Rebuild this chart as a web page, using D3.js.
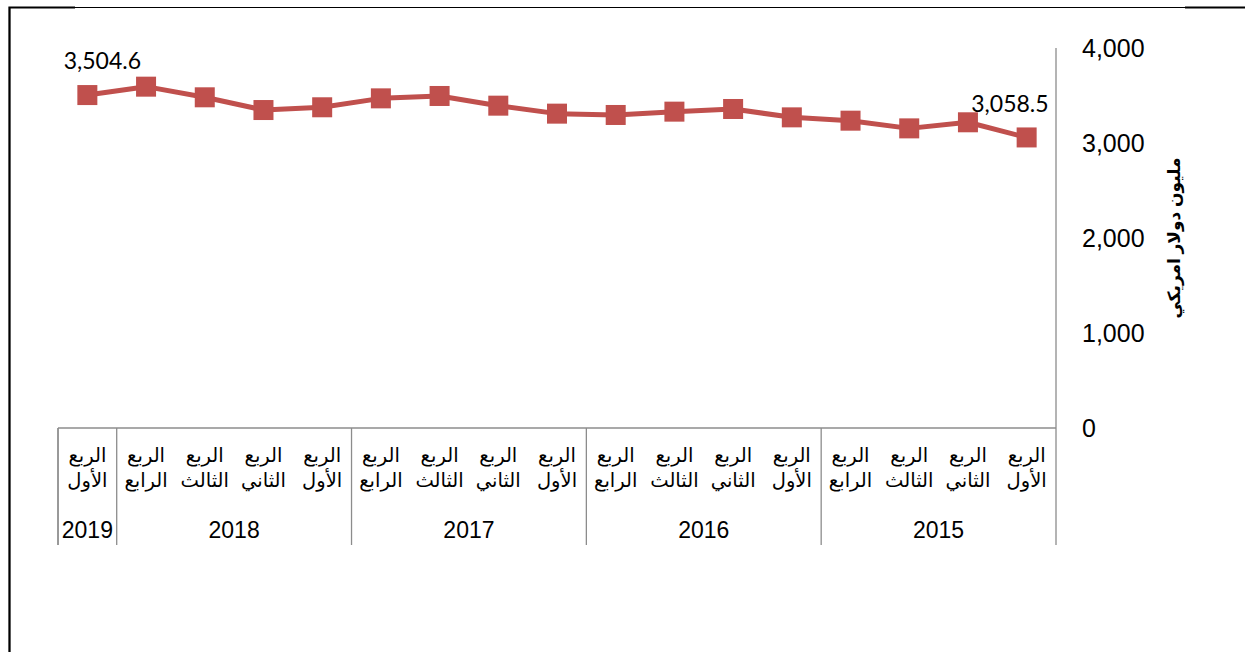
<!DOCTYPE html>
<head>
  <title>Quarterly line chart</title>
  <meta charset="utf-8">
  <script src="https://d3js.org/d3.v7.min.js"></script>
  <style>
    body { margin: 0; background: #fff; }
    .axis-line { stroke: #8c8c8c; stroke-width: 1.3; fill: none; }
    .tick text { font-family: "Liberation Sans", Arial, sans-serif; font-size: 25px; fill: #000; }
    .cat { font-family: "Liberation Sans", Arial, "DejaVu Sans", sans-serif; font-size: 19.5px; fill: #000; }
    .year { font-family: "Liberation Sans", Arial, sans-serif; font-size: 23px; fill: #000; }
    .ytitle { font-family: "Liberation Sans", Arial, "DejaVu Sans", sans-serif; font-size: 17px; font-weight: bold; fill: #000; }
    .dlabel { font-family: Lato, "Open Sans", sans-serif; font-size: 23px; fill: #000; }
  </style>
</head>
<body>
  <div class="container"></div>
  <script>
'use strict';
var width = 1245;
var height = 652;

// data (chronological, 2015 Q1 first)
var years = ['2015', '2016', '2017', '2018', '2019'];
var quarters = ['الأول', 'الثاني', 'الثالث', 'الرابع'];
var quarterWord = 'الربع';
var values = [3058.5, 3218, 3154, 3235, 3270, 3358, 3330, 3295, 3309, 3393,
              3495, 3470, 3376, 3347, 3481, 3593, 3504.6];
var yTicks = [0, 1000, 2000, 3000, 4000];
var yTitle = 'مليون دولار امريكي';

var points = values.map(function (v, i) {
  return { key: i, year: years[Math.floor(i / 4)], q: quarters[i % 4], value: v };
});

var plot = { left: 58, right: 1056, top: 48, bottom: 428, table: 545 };

var svg = d3.select('.container')
  .append('svg')
  .attr('width', width)
  .attr('height', height);

// outer frame (partly cropped)
svg.append('path')
  .attr('d', 'M9.5,652 V7.5 H1245')
  .attr('fill', 'none').attr('stroke', '#000').attr('stroke-width', 1.2);
svg.append('path')
  .attr('d', 'M9.5,652 V7.5 H75 M1185,7.5 H1245')
  .attr('fill', 'none').attr('stroke', '#000').attr('stroke-width', 2.2);

// scales: axis runs right to left
var x = d3.scaleBand()
  .domain(points.map(function (d) { return d.key; }))
  .range([plot.right, plot.left]);

var y = d3.scaleLinear()
  .domain([0, 4000])
  .range([plot.bottom, plot.top]);

// value axis on the right
var yAxis = svg.append('g')
  .attr('transform', 'translate(' + plot.right + ',0)')
  .call(d3.axisRight(y).tickValues(yTicks).tickSize(0).tickPadding(26)
    .tickFormat(d3.format(',')));
yAxis.select('.domain').remove();

svg.append('line')
  .attr('class', 'axis-line')
  .attr('x1', plot.right).attr('x2', plot.right)
  .attr('y1', plot.top).attr('y2', plot.table);

svg.append('text')
  .attr('class', 'ytitle')
  .attr('text-anchor', 'middle')
  .attr('transform', 'translate(1180,' + y(2000) + ') rotate(-90)')
  .text(yTitle);

// category axis
svg.append('line')
  .attr('class', 'axis-line')
  .attr('x1', plot.left).attr('x2', plot.right)
  .attr('y1', plot.bottom).attr('y2', plot.bottom);

var seps = [plot.left];
years.forEach(function (yr) {
  var inYear = points.filter(function (d) { return d.year === yr; });
  seps.push(x(inYear[inYear.length - 1].key));
});
svg.selectAll('line.sep')
  .data(seps)
  .enter().append('line')
  .attr('class', 'axis-line sep')
  .attr('x1', function (d) { return d; }).attr('x2', function (d) { return d; })
  .attr('y1', plot.bottom).attr('y2', plot.table);

var cats = svg.selectAll('g.cat')
  .data(points)
  .enter().append('g')
  .attr('transform', function (d) {
    return 'translate(' + (x(d.key) + x.bandwidth() / 2) + ',0)';
  });
cats.append('text')
  .attr('class', 'cat').attr('text-anchor', 'middle')
  .attr('y', 462)
  .text(quarterWord);
cats.append('text')
  .attr('class', 'cat').attr('text-anchor', 'middle')
  .attr('y', 487)
  .text(function (d) { return d.q; });

svg.selectAll('text.year')
  .data(years)
  .enter().append('text')
  .attr('class', 'year')
  .attr('text-anchor', 'middle')
  .attr('x', function (yr) {
    var inYear = points.filter(function (d) { return d.year === yr; });
    var a = x(inYear[0].key) + x.bandwidth();
    var b = x(inYear[inYear.length - 1].key);
    return (a + b) / 2;
  })
  .attr('y', 538)
  .text(function (d) { return d; });

// series line and markers
var cx = function (d) { return x(d.key) + x.bandwidth() / 2; };
var line = d3.line()
  .x(cx)
  .y(function (d) { return y(d.value); });

svg.append('path')
  .datum(points)
  .attr('d', line)
  .attr('fill', 'none')
  .attr('stroke', '#C0504D')
  .attr('stroke-width', 5)
  .attr('stroke-linejoin', 'round');

svg.selectAll('rect.marker')
  .data(points)
  .enter().append('rect')
  .attr('class', 'marker')
  .attr('x', function (d) { return cx(d) - 10; })
  .attr('y', function (d) { return y(d.value) - 10; })
  .attr('width', 20).attr('height', 20)
  .attr('fill', '#C0504D');

// data labels on first and last point
var fmt = d3.format(',.1f');
var first = points[0];
var last = points[points.length - 1];
svg.append('text')
  .attr('class', 'dlabel').attr('text-anchor', 'end')
  .attr('x', cx(first) + 22).attr('y', y(first.value) - 25)
  .text(fmt(first.value));
svg.append('text')
  .attr('class', 'dlabel').attr('text-anchor', 'middle')
  .attr('x', cx(last) + 15).attr('y', y(last.value) - 26)
  .text(fmt(last.value));
  </script>
</body>
